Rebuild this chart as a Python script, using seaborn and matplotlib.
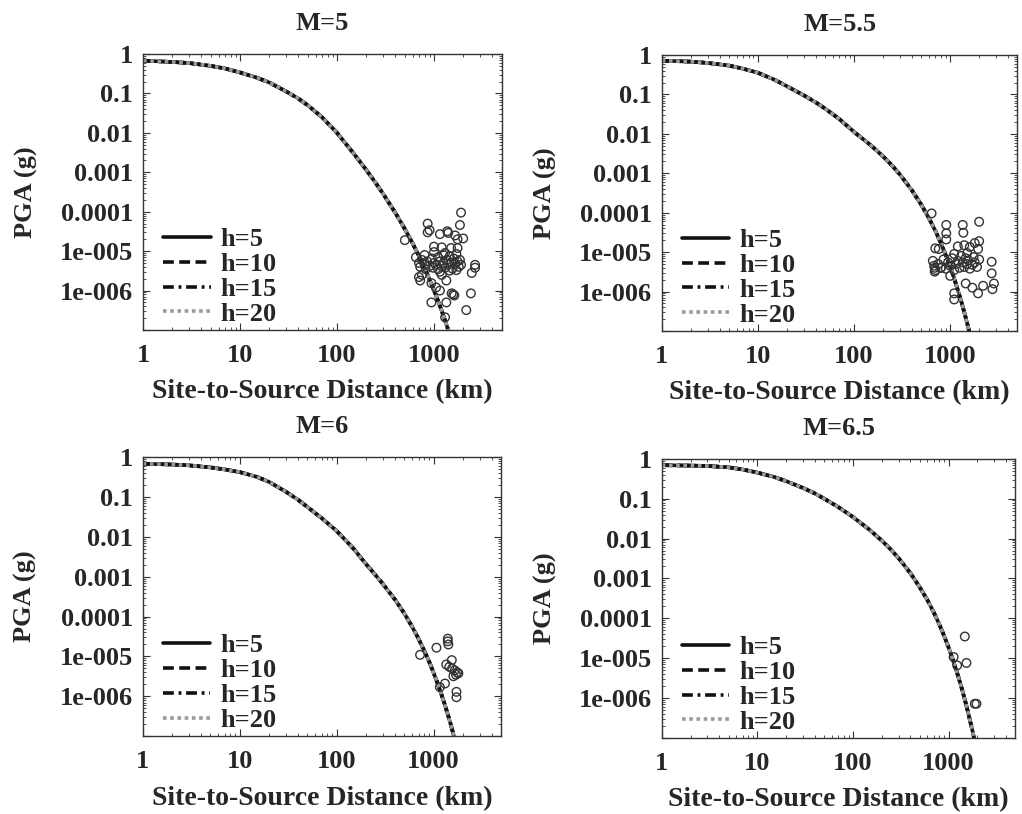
import numpy as np
import pandas as pd
import matplotlib
matplotlib.use("Agg")
import matplotlib.pyplot as plt
import seaborn as sns
from matplotlib.ticker import LogLocator, NullFormatter

sns.set_theme(style="ticks")
plt.rcParams["font.family"] = ["Liberation Serif", "DejaVu Serif"]
plt.rcParams["font.weight"] = "bold"
plt.rcParams["axes.labelweight"] = "bold"
plt.rcParams["axes.titleweight"] = "bold"

# ---------------- data ----------------
titles = ["M=5", "M=5.5", "M=6", "M=6.5"]
h_labels = ["h=5", "h=10", "h=15", "h=20"]

x_ticks = [1, 10, 100, 1000]
x_tick_labels = ["1", "10", "100", "1000"]
y_ticks = [1, 0.1, 0.01, 0.001, 0.0001, 1e-5, 1e-6, 1e-7]
y_tick_labels = ["1", "0.1", "0.01", "0.001", "0.0001", "1e-005", "1e-006", ""]

# predicted curves (the four h curves coincide at this resolution)
curve_d_m5 = [1, 2, 3, 5, 7, 10, 15, 20, 30, 40, 50, 70, 100, 150, 200, 250, 300,
              400, 500, 600, 700, 800, 900, 1000, 1100, 1200, 1300, 1400, 1600]
curve_pga_m5 = [0.68, 0.63, 0.59, 0.5, 0.43, 0.34, 0.25, 0.19, 0.112, 0.074, 0.05,
                0.025, 0.01, 2.9e-3, 1.15e-3, 5.4e-4, 2.8e-4,
                9.3e-5, 3.66e-5, 1.59e-5, 7.5e-6, 3.7e-6, 1.9e-6, 1.0e-6, 5.5e-7,
                3.1e-7, 1.75e-7, 1.0e-7, 3.5e-8]

curve_d_m55 = [1, 2, 3, 5, 7, 10, 15, 20, 30, 40, 50, 70, 100, 150, 200, 250, 300,
               400, 500, 600, 700, 800, 900, 1000, 1100, 1200, 1300, 1400, 1500, 1600, 1800]
curve_pga_m55 = [0.72, 0.68, 0.63, 0.54, 0.45, 0.355, 0.234, 0.162, 0.095, 0.063,
                 0.0437, 0.024, 0.0112, 5.1e-3, 2.7e-3, 1.55e-3, 9.3e-4,
                 3.7e-4, 1.6e-4, 7.3e-5, 3.5e-5, 1.69e-5, 8.4e-6, 4.2e-6, 2.15e-6,
                 1.1e-6, 5.75e-7, 3.0e-7, 1.58e-7, 8.4e-8, 2.4e-8]

curve_d_m6 = [1, 2, 3, 5, 7, 10, 15, 20, 30, 40, 50, 70, 100, 150, 200, 250, 300,
              400, 500, 600, 700, 800, 900, 1000, 1100, 1200, 1300, 1400, 1500, 1600, 1800]
curve_pga_m6 = [0.68, 0.65, 0.62, 0.55, 0.49, 0.42, 0.32, 0.24, 0.135, 0.085, 0.056,
                0.0295, 0.0141, 5.0e-3, 2.1e-3, 1.12e-3, 6.6e-4,
                2.67e-4, 1.19e-4, 5.6e-5, 2.77e-5, 1.41e-5, 7.4e-6, 3.9e-6, 2.1e-6,
                1.15e-6, 6.4e-7, 3.55e-7, 2.0e-7, 1.12e-7, 3.6e-8]

curve_d_m65 = [1, 2, 3, 5, 7, 10, 15, 20, 30, 40, 50, 70, 100, 150, 200, 250, 300,
               400, 500, 600, 700, 800, 900, 1000, 1100, 1200, 1300, 1400, 1500, 1600,
               1700, 1800, 1900, 2000]
curve_pga_m65 = [0.69, 0.675, 0.66, 0.61, 0.54, 0.45, 0.35, 0.275, 0.186, 0.135, 0.1,
                 0.062, 0.0347, 0.0164, 8.9e-3, 5.25e-3, 3.24e-3,
                 1.35e-3, 6.0e-4, 2.9e-4, 1.41e-4, 7.1e-5, 3.6e-5, 1.86e-5, 9.8e-6,
                 5.2e-6, 2.77e-6, 1.5e-6, 8.1e-7, 4.4e-7, 2.4e-7, 1.33e-7, 7.3e-8, 4.1e-8]

# observed records
obs_d_m5 = [500, 860, 860, 900, 1900, 1850, 1150, 1370, 1400, 1650, 2000, 1750,
            1000, 1200, 1500, 1750,
            650, 700, 720, 750, 800, 820, 850, 900, 950, 980,
            1000, 1050, 1100, 1100, 1150, 1200, 1250, 1250, 1300, 1350,
            1400, 1450, 1500, 1550, 1600, 1650, 1700, 1750, 1800, 1850,
            1900, 1300, 1000, 800, 1150, 1450, 1700,
            2650, 2650, 2450, 700, 720, 940, 1340, 1520, 1580, 1620,
            2400, 940, 1340, 2150, 1300, 750, 1200, 1050, 1150]
obs_pga_m5 = [1.9e-5, 5.0e-5, 3.0e-5, 3.4e-5, 9.5e-5, 4.6e-5, 2.7e-5, 3.2e-5, 2.9e-5, 2.5e-5, 2.1e-5, 2.0e-5,
              1.3e-5, 1.25e-5, 1.2e-5, 1.2e-5,
              7e-6, 5e-6, 4e-6, 6e-6, 4.5e-6, 3.5e-6, 5.5e-6, 4.2e-6, 6.5e-6, 3.8e-6,
              5e-6, 4.5e-6, 7e-6, 3.5e-6, 5.5e-6, 4.2e-6, 8e-6, 5e-6, 3.8e-6, 6e-6,
              4.5e-6, 7.5e-6, 5.2e-6, 3.6e-6, 6.5e-6, 4.8e-6, 8.5e-6, 5.5e-6, 4e-6, 6e-6,
              4.5e-6, 9e-6, 9.5e-6, 8e-6, 3e-6, 3.2e-6, 3.3e-6,
              4.5e-6, 3.8e-6, 2.8e-6, 2.2e-6, 1.8e-6, 1.55e-6, 1.8e-6, 8.5e-7, 8e-7, 7.5e-7,
              8.5e-7, 5e-7, 5e-7, 3.2e-7, 2.1e-7, 2.5e-6, 2.5e-6, 1.2e-6, 1.0e-6]

obs_d_m55 = [640, 910, 910, 910, 1350, 1370, 2000, 700, 760, 1200, 1400, 1600, 1950, 1800, 2000,
             660, 680, 700, 750, 800, 850, 900, 950, 1000, 1050,
             1100, 1150, 1200, 1250, 1300, 1350, 1400, 1450, 1500, 1550,
             1600, 1700, 1750, 1800, 1900, 2000, 1100, 1500,
             2700, 2700, 2750, 2850, 1450, 1700, 1950, 2200, 1100, 1100, 1000, 690, 690, 800]
obs_pga_m55 = [9.6e-5, 4.9e-5, 3.0e-5, 2.1e-5, 4.9e-5, 3.1e-5, 5.9e-5, 1.25e-5, 1.2e-5, 1.4e-5, 1.5e-5, 1.35e-5, 1.2e-5, 1.7e-5, 1.9e-5,
               6e-6, 4.5e-6, 3.5e-6, 5e-6, 4e-6, 6.5e-6, 3.8e-6, 5.5e-6, 4.5e-6, 7e-6,
               3.5e-6, 5e-6, 6e-6, 4e-6, 8e-6, 5.5e-6, 4.2e-6, 7e-6, 5e-6, 6.2e-6,
               3.8e-6, 4.8e-6, 7.5e-6, 5.5e-6, 4.2e-6, 6.5e-6, 9e-6, 9.5e-6,
               5.7e-6, 2.9e-6, 1.15e-6, 1.6e-6, 1.6e-6, 1.25e-6, 9e-7, 1.4e-6, 9e-7, 6.3e-7, 2.5e-6, 4e-6, 3.2e-6, 4e-6]

obs_d_m6 = [725, 1070, 1400, 1400, 1420, 1540, 1350, 1450, 1550, 1650, 1750, 1700,
            1600, 1310, 1160, 1720, 1720, 1800]
obs_pga_m6 = [1.1e-5, 1.66e-5, 2.8e-5, 2.4e-5, 2.0e-5, 8.1e-6, 6.3e-6, 5.5e-6, 5e-6, 4.5e-6, 4e-6, 3.5e-6,
              3.2e-6, 2.1e-6, 1.7e-6, 1.3e-6, 9.5e-7, 3.8e-6]

obs_d_m65 = [1480, 1130, 1230, 1540, 1880, 1960]
obs_pga_m65 = [3.5e-5, 1.07e-5, 6.6e-6, 7.6e-6, 7.2e-7, 7.2e-7]

curves_d = [curve_d_m5, curve_d_m55, curve_d_m6, curve_d_m65]
curves_pga = [curve_pga_m5, curve_pga_m55, curve_pga_m6, curve_pga_m65]
obs_d = [obs_d_m5, obs_d_m55, obs_d_m6, obs_d_m65]
obs_pga = [obs_pga_m5, obs_pga_m55, obs_pga_m6, obs_pga_m65]

# ---------------- styles ----------------
line_styles = [
    dict(color="#111111", linestyle="-"),
    dict(color="#111111", linestyle=(0, (3.0, 1.5))),
    dict(color="#111111", linestyle=(0, (3.0, 1.3, 0.8, 1.3))),
    dict(color="#9a9a9a", linestyle=(0, (1.0, 1.0))),
]
positions = [
    [0.140, 0.5946, 0.351, 0.339],
    [0.6475, 0.5934, 0.348, 0.339],
    [0.1396, 0.0955, 0.351, 0.343],
    [0.6475, 0.0934, 0.346, 0.343],
]

fig = plt.figure(figsize=(10.22, 8.14), dpi=100)
fs = 19

for i in range(4):
    ax = fig.add_axes(positions[i])
    for j, h in enumerate(h_labels):
        df = pd.DataFrame({"d": curves_d[i], "pga": curves_pga[i]})
        sns.lineplot(data=df, x="d", y="pga", ax=ax, label=h, linewidth=2.6,
                     estimator=None, sort=True, **line_styles[j])
    od = pd.DataFrame({"d": obs_d[i], "pga": obs_pga[i]})
    sns.scatterplot(data=od, x="d", y="pga", ax=ax, marker="o", s=38,
                    facecolor="none", edgecolor="#333333", linewidth=1.0, zorder=3)
    ax.set_xscale("log")
    ax.set_yscale("log")
    ax.set_xlim(1, 5000)
    ax.set_ylim(1e-7, 1)
    ax.set_xticks(x_ticks, x_tick_labels)
    ax.set_yticks(y_ticks, y_tick_labels)
    ax.xaxis.set_minor_locator(LogLocator(base=10, subs=np.arange(2, 10), numticks=20))
    ax.yaxis.set_minor_locator(LogLocator(base=10, subs=np.arange(2, 10), numticks=20))
    ax.xaxis.set_minor_formatter(NullFormatter())
    ax.yaxis.set_minor_formatter(NullFormatter())
    ax.tick_params(which="both", direction="in", top=True, right=True, color="#333333")
    ax.tick_params(which="major", length=5, width=0.8, labelsize=fs)
    ax.tick_params(axis="y", which="major", pad=7)
    ax.tick_params(axis="x", which="major", pad=10)
    ax.tick_params(which="minor", length=2.5, width=0.6)
    for lab in ax.get_xticklabels() + ax.get_yticklabels():
        lab.set_fontweight("bold")
    for sp in ax.spines.values():
        sp.set_linewidth(1.0)
        sp.set_color("#333333")
    ax.set_xlabel("Site-to-Source Distance (km)", fontsize=fs + 1, labelpad=9)
    ax.set_ylabel("PGA (g)", fontsize=fs, labelpad=16)
    ax.set_title(titles[i], fontsize=fs, pad=17)
    ax.legend(loc="lower left", bbox_to_anchor=(0.041, -0.003), frameon=False,
              handlelength=1.8, handletextpad=0.38, labelspacing=0.05,
              borderaxespad=0.0, borderpad=0.2,
              prop={"weight": "bold", "size": fs})

fig.savefig("out.png", dpi=100)
